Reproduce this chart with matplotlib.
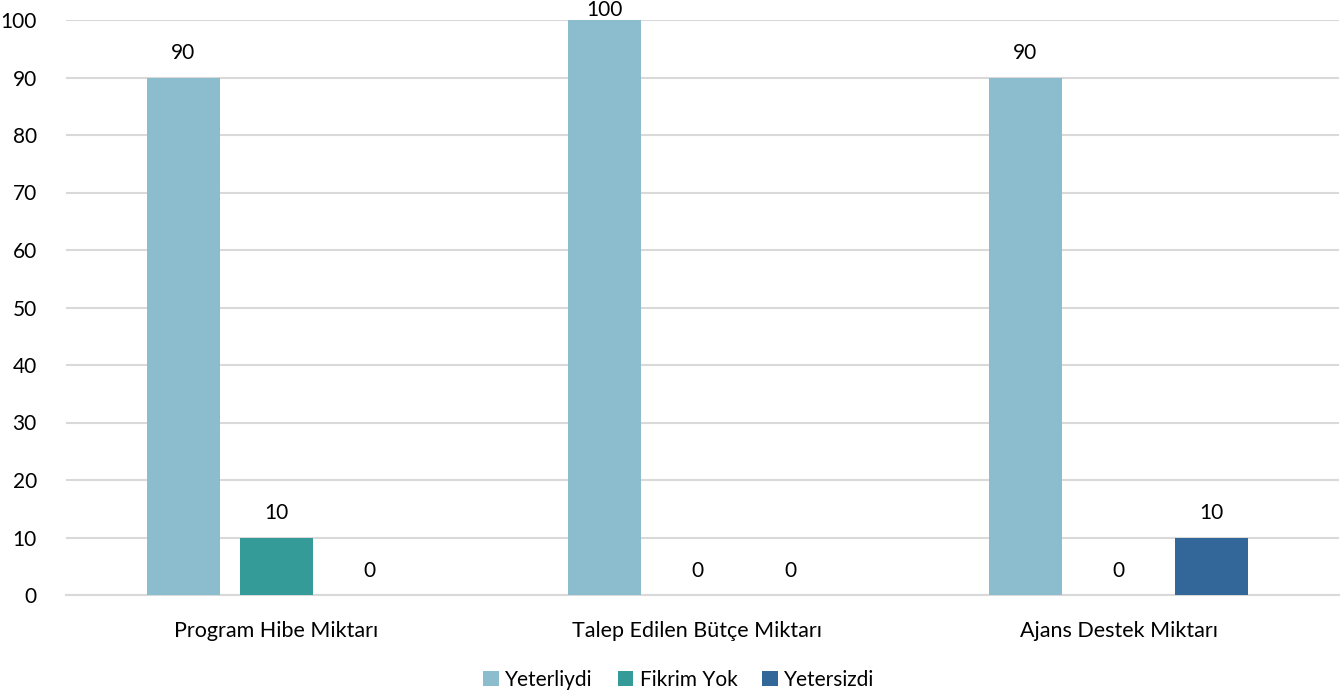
import matplotlib
matplotlib.use("Agg")
import matplotlib.pyplot as plt
import numpy as np

categories = ["Program Hibe Miktarı", "Talep Edilen Bütçe Miktarı", "Ajans Destek Miktarı"]
series_names = ["Yeterliydi", "Fikrim Yok", "Yetersizdi"]
yeterliydi = [90, 100, 90]
fikrim_yok = [10, 0, 0]
yetersizdi = [0, 0, 10]
colors = ["#8BBDCE", "#349B98", "#336699"]

plt.rcParams['font.family'] = ['Lato', 'DejaVu Sans']

fig = plt.figure(figsize=(13.4, 6.97), dpi=100)
ax = fig.add_axes([66/1340, 1-595/697, 1273/1340, (595-20)/697])

x = np.arange(len(categories))
width = 0.174
offset = 0.221
ymax = 100
data = [yeterliydi, fikrim_yok, yetersizdi]
for i, (vals, name, c) in enumerate(zip(data, series_names, colors)):
    pos = x + (i - 1) * offset
    ax.bar(pos, vals, width, color=c, label=name, zorder=3)
    for p, v in zip(pos, vals):
        ax.text(p, min(v + 4.2, ymax + 1.75), f"{v}", ha="center", va="center",
                fontsize=15, color="#000000", zorder=4, clip_on=False)

ax.set_xlim(-0.5, 2.5 + 10/421)
ax.set_ylim(0, ymax)
ax.set_yticks(range(0, 101, 10))
ax.tick_params(axis='y', length=0, labelsize=15, pad=21)
ax.tick_params(axis='x', length=0, labelsize=15.5, pad=19)
ax.set_xticks(x)
ax.set_xticklabels(categories)
ax.yaxis.grid(True, color="#D9D9D9", linewidth=1.5, zorder=0)
for s in ["top", "right", "left"]:
    ax.spines[s].set_visible(False)
ax.spines["bottom"].set_color("#D9D9D9")
ax.spines["bottom"].set_linewidth(1.5)
ax.set_axisbelow(True)

fig.legend(loc="center", bbox_to_anchor=(500/1340 + (876-482)/2/1340 - 18/1340, 1-680/697), ncol=3, frameon=False,
           fontsize=15, handlelength=0.75, handleheight=0.75, handletextpad=0.3, columnspacing=1.2)

fig.savefig("out.png", dpi=100)
